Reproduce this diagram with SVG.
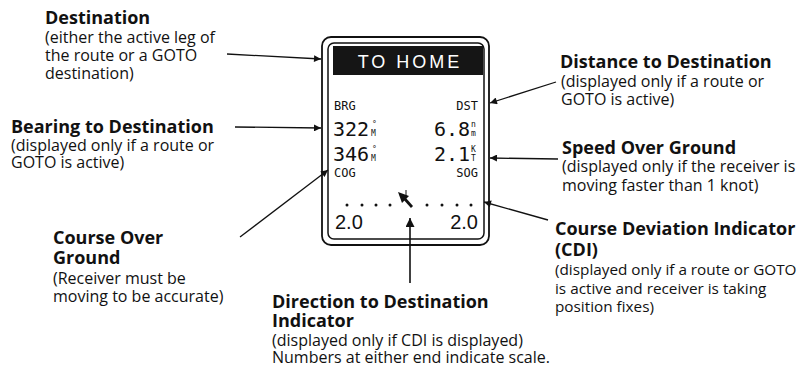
<svg xmlns="http://www.w3.org/2000/svg" width="798" height="375" viewBox="0 0 798 375">
<defs>
<marker id="ah" viewBox="0 0 10 10" refX="10" refY="5" markerWidth="9" markerHeight="7" markerUnits="userSpaceOnUse" orient="auto">
<path d="M0,0 L10,5 L0,10 Z" fill="#111"/>
</marker>
<marker id="ahb" viewBox="0 0 10 10" refX="10" refY="5" markerWidth="12" markerHeight="9" markerUnits="userSpaceOnUse" orient="auto">
<path d="M0,0 L10,5 L0,10 Z" fill="#111"/>
</marker>
</defs>
<style>
.h{font-family:"Open Sans","Noto Sans",sans-serif;font-weight:bold;font-size:18px;fill:#111}
.t{font-family:"Open Sans","Noto Sans",sans-serif;font-size:16px;fill:#111}
.n{font-size:15.3px}
.lcd{font-family:"DejaVu Sans Mono","Liberation Mono",monospace;fill:#111}
.s{font-size:12px}
.b{font-size:20px}
.sup{font-size:8px}
.sc{font-family:"Liberation Sans",Arial,sans-serif;font-size:20px;fill:#111}
.c{stroke:#111;stroke-width:1.3;fill:none;marker-end:url(#ah)}
</style>
<rect width="798" height="375" fill="#fff"/>

<g id="device">
<rect x="322" y="37" width="167" height="208" rx="9" fill="none" stroke="#111" stroke-width="1.8"/>
<rect x="328" y="43" width="156" height="196" rx="6" fill="none" stroke="#111" stroke-width="1.5"/>
<rect x="333" y="46" width="150" height="29" fill="#151515"/>
<text x="410" y="68" text-anchor="middle" font-family="Liberation Sans, Arial, sans-serif" font-size="18" letter-spacing="3" fill="#fff">TO HOME</text>
<text class="lcd s" x="334" y="110">BRG</text>
<text class="lcd s" x="478" y="110" text-anchor="end">DST</text>
<text class="lcd b" x="333" y="136">322</text>
<text class="lcd sup" x="372" y="127">°</text>
<text class="lcd sup" x="371" y="136">M</text>
<text class="lcd b" x="470" y="136" text-anchor="end">6.8</text>
<text class="lcd sup" x="471" y="127">n</text>
<text class="lcd sup" x="471" y="136">m</text>
<text class="lcd b" x="333" y="161">346</text>
<text class="lcd sup" x="372" y="152">°</text>
<text class="lcd sup" x="371" y="161">M</text>
<text class="lcd b" x="470" y="161" text-anchor="end">2.1</text>
<text class="lcd sup" x="471" y="152">K</text>
<text class="lcd sup" x="471" y="161">T</text>
<text class="lcd s" x="334" y="177">COG</text>
<text class="lcd s" x="478" y="177" text-anchor="end">SOG</text>
<g fill="#111">
<circle cx="347" cy="205" r="1.5"/><circle cx="362" cy="205" r="1.5"/><circle cx="376" cy="205" r="1.5"/><circle cx="390" cy="205" r="1.5"/>
<circle cx="427" cy="205" r="1.5"/><circle cx="442" cy="205" r="1.5"/><circle cx="457" cy="205" r="1.5"/><circle cx="471" cy="205" r="1.5"/>
<path d="M398,192 L409,196 L402,203 Z"/>
</g>
<line x1="404" y1="198" x2="412" y2="207" stroke="#111" stroke-width="2.8"/>
<line x1="406" y1="190" x2="406" y2="198" stroke="#111" stroke-width="1"/>
<text class="sc" x="335" y="229">2.0</text>
<text class="sc" x="478" y="229" text-anchor="end">2.0</text>
</g>

<g id="connectors">
<line class="c" x1="227" y1="54" x2="321" y2="59"/>
<line class="c" x1="235" y1="127" x2="321" y2="128"/>
<line class="c" x1="240" y1="237" x2="328" y2="170"/>
<line class="c" x1="556" y1="82" x2="490" y2="103"/>
<line class="c" x1="558" y1="159" x2="490" y2="158"/>
<line class="c" x1="548" y1="220" x2="484" y2="202"/>
<line x1="410" y1="283" x2="410" y2="218" stroke="#111" stroke-width="1.6" marker-end="url(#ahb)"/>
</g>

<g id="destination">
<text class="h" x="45" y="24">Destination</text>
<text class="t" x="45" y="43">(either the active leg of</text>
<text class="t" x="45" y="61">the route or a GOTO</text>
<text class="t" x="45" y="79">destination)</text>
</g>
<g id="bearing">
<text class="h" x="11" y="133">Bearing to Destination</text>
<text class="t" x="11" y="151">(displayed only if a route or</text>
<text class="t" x="11" y="168">GOTO is active)</text>
</g>
<g id="cog">
<text class="h" x="53" y="244">Course Over</text>
<text class="h" x="53" y="264">Ground</text>
<text class="t" x="53" y="284">(Receiver must be</text>
<text class="t" x="53" y="302">moving to be accurate)</text>
</g>
<g id="ddi">
<text class="h" x="272" y="308">Direction to Destination</text>
<text class="h" x="272" y="327">Indicator</text>
<text class="t" x="272" y="346">(displayed only if CDI is displayed)</text>
<text class="t" x="272" y="363">Numbers at either end indicate scale.</text>
</g>
<g id="distance">
<text class="h" x="560" y="68">Distance to Destination</text>
<text class="t" x="561" y="87">(displayed only if a route or</text>
<text class="t" x="561" y="105">GOTO is active)</text>
</g>
<g id="speed">
<text class="h" x="562" y="154">Speed Over Ground</text>
<text class="t" x="562" y="172">(displayed only if the receiver is</text>
<text class="t" x="562" y="191">moving faster than 1 knot)</text>
</g>
<g id="cdi">
<text class="h" x="555" y="235">Course Deviation Indicator</text>
<text class="h" x="555" y="256">(CDI)</text>
<text class="t n" x="555" y="275">(displayed only if a route or GOTO</text>
<text class="t n" x="555" y="294">is active and receiver is taking</text>
<text class="t n" x="555" y="312">position fixes)</text>
</g>
</svg>
